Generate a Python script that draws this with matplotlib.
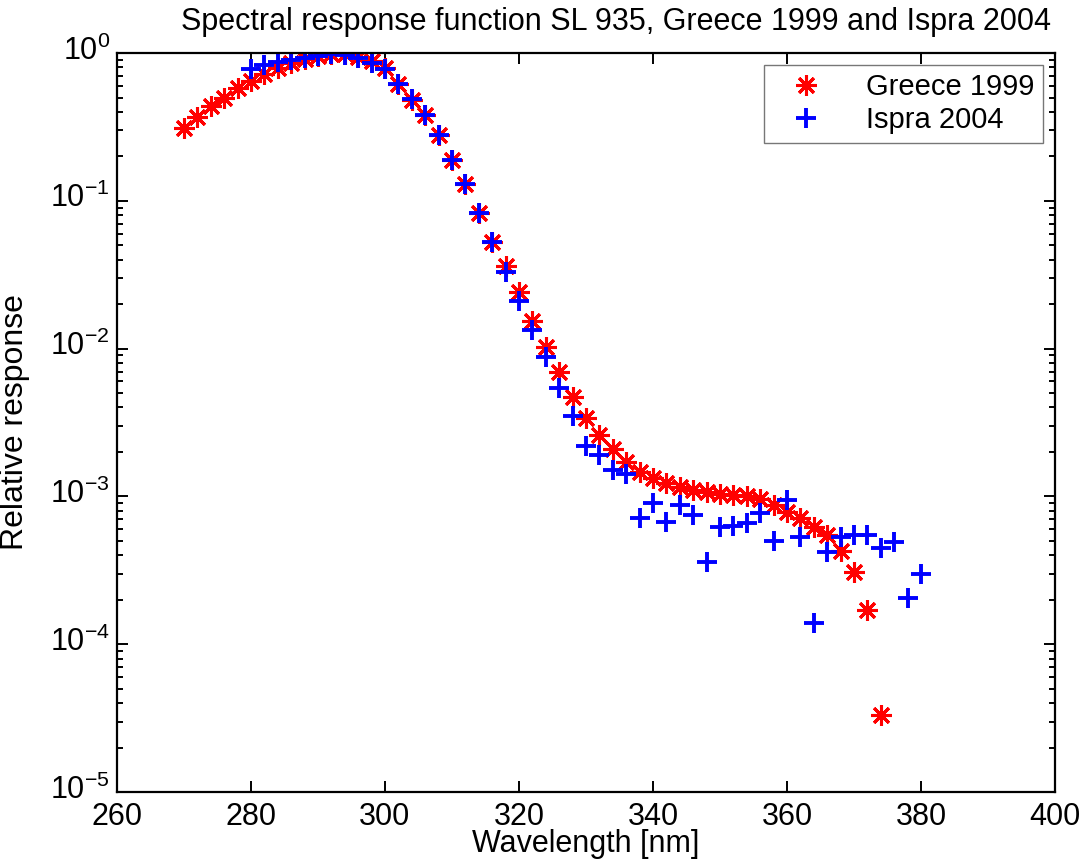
import numpy as np
import matplotlib.pyplot as plt
import matplotlib.transforms as mtransforms
from matplotlib.ticker import LogLocator, NullFormatter

plt.rcParams['font.family'] = ['Liberation Sans', 'DejaVu Sans']
plt.rcParams['mathtext.fontset'] = 'custom'
plt.rcParams['mathtext.rm'] = 'Liberation Sans'
plt.rcParams['mathtext.it'] = 'Liberation Sans'

# Greece 1999 scan, 270-374 nm every 2 nm
greece_wl = list(range(270, 376, 2))
greece_resp = [0.31, 0.37, 0.44, 0.50, 0.58, 0.65, 0.72, 0.79, 0.86, 0.91,
               0.95, 0.98, 0.98, 0.94, 0.88, 0.79, 0.62, 0.48, 0.38, 0.28,
               0.19, 0.13, 0.083, 0.053, 0.036, 0.024, 0.0154, 0.0102, 0.0069, 0.0047,
               0.0034, 0.0026, 0.0021, 0.0017, 0.00146, 0.00133, 0.00123, 0.00115, 0.0011, 0.00107,
               0.00104, 0.00102, 0.0010, 0.00096, 0.00088, 0.00079, 0.00071, 0.00062, 0.00055, 0.00043,
               0.00031, 0.00017, 0.000033]

# Ispra 2004 scan, 280-380 nm every 2 nm
ispra_wl = list(range(280, 382, 2))
ispra_resp = [0.78, 0.83, 0.87, 0.90, 0.93, 0.96, 0.99, 0.97, 0.93, 0.86,
              0.78, 0.62, 0.49, 0.38, 0.28, 0.19, 0.13, 0.083, 0.053, 0.033,
              0.021, 0.0134, 0.0088, 0.0054, 0.0035, 0.0022, 0.0019, 0.0015, 0.00142, 0.00072,
              0.0009, 0.00067, 0.00087, 0.00075, 0.00036, 0.00062, 0.00063, 0.00066, 0.00077, 0.0005,
              0.00095, 0.00053, 0.00014, 0.00042, 0.00053, 0.00055, 0.00055, 0.00045, 0.00049, 0.000205,
              0.0003]

fig = plt.figure(figsize=(10.84, 8.61), dpi=100)
ax = fig.add_axes([0.1079, 0.0801, 0.8653, 0.8583])

# matlab style asterisk: 8 spokes
ax.semilogy(greece_wl, greece_resp, linestyle='none', marker=(8, 2, 0), color='red',
            markersize=15, markeredgewidth=2.2, label='Greece 1999')
ax.semilogy(ispra_wl, ispra_resp, linestyle='none', marker='+', color='blue',
            markersize=15, markeredgewidth=2.8, label='Ispra 2004')

ax.set_xlim(260, 400)
ax.set_ylim(1e-5, 1)
ax.set_xticks(range(260, 401, 20))
ax.yaxis.set_major_locator(LogLocator(base=10, numticks=10))
ax.yaxis.set_minor_locator(LogLocator(base=10, subs=np.arange(2, 10), numticks=10))
ax.yaxis.set_minor_formatter(NullFormatter())

for s in ax.spines.values():
    s.set_linewidth(1.6)
ax.tick_params(which='both', direction='in', top=True, right=True, width=1.4)
ax.tick_params(which='major', length=8, labelsize=22)
ax.tick_params(which='minor', length=4)
ax.tick_params(axis='x', which='minor', bottom=False, top=False)
ax.tick_params(axis='x', pad=7)
ax.tick_params(axis='y', pad=5)

# lift the 10^n labels a little so the "10" sits on the tick like matlab
lift = mtransforms.ScaledTranslation(0, 4 / 72, fig.dpi_scale_trans)
for lbl in ax.get_yticklabels():
    lbl.set_transform(lbl.get_transform() + lift)

ax.set_xlabel('Wavelength [nm]', fontsize=22)
ax.xaxis.set_label_coords(0.5, -0.05)
ax.set_ylabel('Relative response', fontsize=23)
ax.yaxis.set_label_coords(-0.093, 0.5)
fig.text(0.568, 0.974, 'Spectral response function SL 935, Greece 1999 and Ispra 2004',
         fontsize=22, ha='center', va='center')

leg = ax.legend(loc='upper right', fontsize=21, frameon=True, fancybox=False,
                borderaxespad=0.4, handletextpad=0.9, borderpad=0.3,
                labelspacing=0.15, handlelength=2.3)
leg.get_frame().set_edgecolor('#555555')
leg.get_frame().set_linewidth(1.0)

fig.savefig('out.png', dpi=100)
